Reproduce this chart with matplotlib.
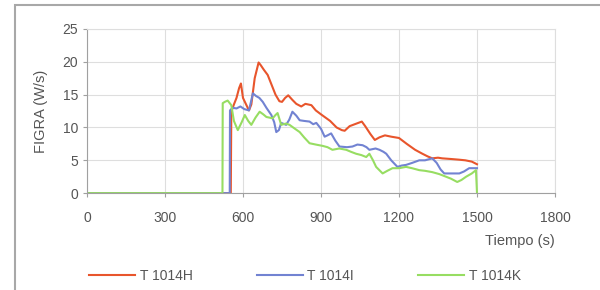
import matplotlib.pyplot as plt
from matplotlib.patches import Rectangle

# =========================
# DATA
# =========================
t_h = [0, 553, 555, 565, 575, 585, 592, 600, 612, 623, 632, 645, 660, 668, 680, 695, 710, 725, 740, 750,
       762, 774, 790, 805, 824, 840, 863, 880, 900, 914, 935, 960, 980, 991, 1010, 1030, 1057, 1070, 1090,
       1107, 1125, 1146, 1170, 1200, 1230, 1262, 1290, 1310, 1328, 1350, 1366, 1400, 1430, 1455, 1480, 1500]
y_h = [0, 0, 12.4, 13.5, 14.5, 16.0, 16.7, 14.5, 13.5, 12.6, 13.5, 17.5, 19.9, 19.5, 18.8, 18.0, 16.5, 15.0,
       14.0, 13.9, 14.5, 14.9, 14.2, 13.6, 13.2, 13.6, 13.4, 12.6, 12.0, 11.6, 11.0, 10.0, 9.6, 9.5, 10.2, 10.5,
       10.9, 10.2, 9.0, 8.1, 8.5, 8.8, 8.6, 8.4, 7.5, 6.6, 6.0, 5.6, 5.3, 5.4, 5.3, 5.2, 5.1, 5.0, 4.8, 4.4]

t_i = [0, 549, 550, 560, 575, 590, 605, 623, 630, 638, 650, 663, 676, 690, 709, 720, 728, 738, 747, 766,
       778, 790, 805, 818, 835, 856, 870, 882, 900, 914, 925, 939, 955, 971, 1000, 1021, 1040, 1060, 1075,
       1086, 1110, 1125, 1140, 1151, 1170, 1194, 1210, 1227, 1250, 1278, 1300, 1328, 1345, 1360, 1374, 1400,
       1432, 1450, 1470, 1490, 1500]
y_i = [0, 0, 12.6, 13.0, 12.9, 13.2, 12.8, 12.6, 13.8, 15.2, 14.8, 14.5, 13.9, 13.0, 11.9, 10.8, 9.3, 9.6,
       10.7, 10.4, 11.2, 12.4, 11.8, 11.1, 11.0, 10.9, 10.5, 10.7, 9.8, 8.6, 8.8, 9.1, 8.0, 7.1, 7.0, 7.1, 7.4,
       7.3, 7.0, 6.6, 6.8, 6.6, 6.3, 6.0, 5.0, 4.0, 4.2, 4.3, 4.6, 5.0, 5.0, 5.3, 4.6, 3.6, 3.0, 3.0, 3.0, 3.3,
       3.8, 3.8, 3.8]

t_k = [0, 521, 522, 530, 541, 555, 565, 580, 595, 607, 620, 632, 648, 664, 678, 690, 714, 725, 733, 747,
       765, 779, 800, 818, 835, 856, 880, 906, 925, 944, 970, 997, 1015, 1035, 1055, 1074, 1086, 1100, 1112,
       1137, 1155, 1175, 1200, 1227, 1250, 1278, 1300, 1328, 1355, 1381, 1400, 1424, 1440, 1458, 1480, 1496,
       1500]
y_k = [0, 0, 13.7, 13.9, 14.1, 13.4, 11.0, 9.6, 10.8, 11.9, 11.0, 10.4, 11.5, 12.4, 12.0, 11.6, 11.4, 11.9,
       12.2, 10.4, 10.6, 10.4, 9.8, 9.3, 8.5, 7.6, 7.4, 7.2, 7.0, 6.6, 6.8, 6.6, 6.3, 6.0, 5.8, 5.5, 6.0, 5.0,
       4.0, 3.0, 3.4, 3.8, 3.8, 4.0, 3.8, 3.5, 3.4, 3.2, 2.9, 2.5, 2.2, 1.7, 2.0, 2.5, 3.0, 3.5, 0]

labels = ["T 1014H", "T 1014I", "T 1014K"]
colors = ["#e8552c", "#7283d2", "#97dd62"]
x_ticks = [0, 300, 600, 900, 1200, 1500, 1800]
y_ticks = [0, 5, 10, 15, 20, 25]

# =========================
# PLOT
# =========================
plt.rcParams['font.family'] = ['Liberation Sans', 'DejaVu Sans']
fig = plt.figure(figsize=(6, 2.9), dpi=100)

# outer frame of the chart, drawn as a patch on the figure itself
fig.patches.append(Rectangle((15, -20), 700, 285 + 20, transform=None, fill=False,
                             edgecolor="#a8a8a8", linewidth=1.5, zorder=5))

ax = fig.add_axes([0.145, 0.334, 0.780, 0.566])

lines = []
for t, y, c, lab in zip([t_h, t_i, t_k], [y_h, y_i, y_k], colors, labels):
    ln, = ax.plot(t, y, color=c, linewidth=1.5, label=lab)
    lines.append(ln)

ax.set_xlim(0, 1800)
ax.set_ylim(0, 25)
ax.set_xticks(x_ticks)
ax.set_yticks(y_ticks)
ax.grid(True, color="#dedede", linewidth=0.8)
ax.set_axisbelow(True)
for s in ["top", "right"]:
    ax.spines[s].set_color("#dedede")
for s in ["left", "bottom"]:
    ax.spines[s].set_color("#a0a0a0")
ax.tick_params(colors="#a0a0a0", labelcolor="#555555", labelsize=10, length=3)
ax.tick_params(axis="x", pad=10)

ax.set_ylabel("FIGRA (W/s)", fontsize=10.5, color="#555555", labelpad=10)
ax.set_xlabel("Tiempo (s)", fontsize=10.5, color="#555555", loc="right", labelpad=6)

fig.legend(lines, labels, loc="lower left", bbox_to_anchor=(0.128, -0.02), ncol=3,
           frameon=False, fontsize=10, handlelength=3.3, handletextpad=0.35,
           columnspacing=4.6, labelcolor="#555555")

fig.savefig("out.png", dpi=100)
